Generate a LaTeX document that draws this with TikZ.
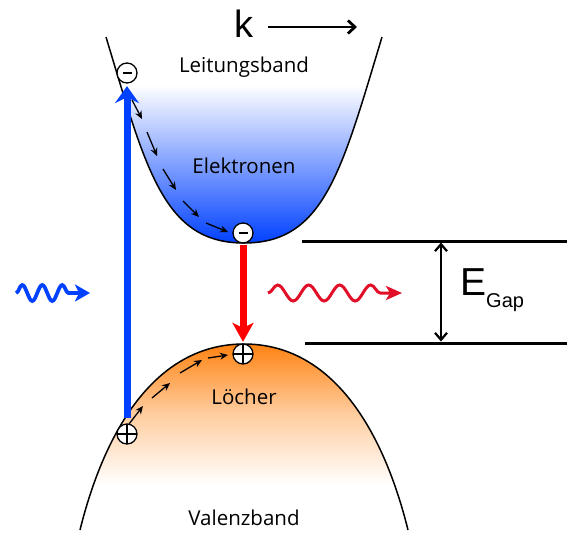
\documentclass[tikz,border=0pt]{standalone}
\usepackage{fontspec}
\setmainfont{Open Sans}
\newfontfamily\arialfont{Liberation Sans}
\usetikzlibrary{arrows.meta}
\usetikzlibrary{decorations.pathmorphing}
\definecolor{bandblue}{RGB}{0, 64, 255}
\definecolor{bandorange}{RGB}{255, 130, 16}
\definecolor{photonred}{RGB}{225, 15, 40}
\definecolor{recomred}{RGB}{255, 0, 0}
\tikzset{band/.style = {line width = 1.5pt}}
\tikzset{bandtext/.style = {font = \fontsize{20.5}{24}\selectfont, anchor = base}}
\tikzset{elec/.style = {circle, draw, fill = white, line width = 1.3pt, inner sep = 0, minimum size = 20pt,
                        path picture = {\draw [line width = 2.6pt] ([xshift = -4.5pt]path picture bounding box.center)
                                                                   -- ([xshift = 4.5pt]path picture bounding box.center);}}}
\tikzset{hole/.style = {circle, draw, fill = white, line width = 1.3pt, inner sep = 0, minimum size = 20pt,
                        path picture = {\draw [line width = 1.6pt] (path picture bounding box.west) -- (path picture bounding box.east)
                                                                   (path picture bounding box.north) -- (path picture bounding box.south);}}}
\tikzset{hop/.style = {line width = 1.3pt, -{Stealth[length = 8pt, width = 7pt]}}}
\tikzset{pump/.style = {line width = 7pt, bandblue, -{Stealth[length = 17pt, width = 24pt, inset = 6pt]}}}
\tikzset{recom/.style = {line width = 7pt, recomred, -{Stealth[length = 19pt, width = 21pt, inset = 5pt]}}}
\tikzset{wave/.style = {decorate, decoration = {snake, amplitude = 8pt, segment length = #1, post length = 12pt}}}
\tikzset{barb/.style = {line width = 2.8pt, -{Straight Barb[length = 7pt, width = 13pt]}}}
\newcommand{\cbandpath}{(106, 37) .. controls (146.6, 171.4) and (164, 243) .. (244, 243)
                                  .. controls (324, 243) and (341.4, 171.4) .. (382, 37)}
\newcommand{\vbandpath}{(80, 530) .. controls (104, 433) and (154, 344) .. (244, 344)
                                  .. controls (334, 344) and (384, 433) .. (408, 530)}

\begin{document}
\begin{tikzpicture}[x = 1pt, y = -1pt]
    \useasboundingbox (0, 0) rectangle (567, 555);

    \begin{scope}
        \clip \cbandpath -- cycle;
        \shade [top color = white, bottom color = bandblue] (100, 85) rectangle (390, 244);
    \end{scope}
    \begin{scope}
        \clip \vbandpath -- cycle;
        \shade [top color = bandorange, bottom color = white, middle color = bandorange!40!white] (75, 343) rectangle (415, 485);
    \end{scope}

    \draw [band] \cbandpath;
    \draw [band] \vbandpath;

    \foreach \xa/\ya/\xb/\yb in {132/100/142/119, 147/132/157/156, 163/169/176/190, 183/201/199/217, 206/223/228/232}
        \draw [hop] (\xa, \ya) -- (\xb, \yb);
    \foreach \xa/\ya/\xb/\yb in {129/424/143/406, 152/398/170/383, 180/373/202/360, 208/358/228/355}
        \draw [hop] (\xa, \ya) -- (\xb, \yb);

    \node [elec] (e1) at (127, 73) {};
    \node [elec] (e2) at (243, 233) {};
    \node [hole] (h1) at (127, 434) {};
    \node [hole] (h2) at (243, 354) {};

    \draw [pump, shorten <= 5pt, shorten >= 2.5pt] (h1) -- (e1);
    \draw [recom, shorten <= 1pt, shorten >= 1.5pt] (e2) -- (h2);

    \node [bandtext] (lb) at (244, 72) {Leitungsband};
    \node [bandtext] (el) at (244, 173) {Elektronen};
    \node [bandtext] (lo) at (244, 404) {Löcher};
    \node [bandtext] (vb) at (244, 525) {Valenzband};

    \node [font = \arialfont\fontsize{38}{40}\selectfont, anchor = base, inner sep = 0] (k) at (244, 37) {k};
    \coordinate (k0) at (268, 27);
    \coordinate (k1) at (357, 27);
    \draw [barb] (k0) -- (k1);

    \coordinate (cb0) at (302, 241);
    \coordinate (cb1) at (567, 241);
    \coordinate (vb0) at (305, 343);
    \coordinate (vb1) at (567, 343);
    \draw [line width = 3pt] (cb0) -- (cb1);
    \draw [line width = 3pt] (vb0) -- (vb1);
    \coordinate (gt) at (441, 242.5);
    \coordinate (gb) at (441, 341.5);
    \draw [line width = 2.2pt, {Straight Barb[length = 7pt, width = 12pt]}-{Straight Barb[length = 7pt, width = 12pt]}] (gt) -- (gb);
    \node [font = \arialfont\fontsize{39}{40}\selectfont, anchor = base west, inner sep = 0] (eg) at (460, 295)
        {E\raisebox{-12pt}{\fontsize{20}{22}\selectfont Gap}};

    \coordinate (in0) at (16, 293);
    \coordinate (in1) at (90, 293);
    \draw [wave = 20pt, bandblue, line width = 3.7pt, -{Stealth[length = 15pt, width = 17pt, inset = 4pt]}] (in0) -- (in1);
    \coordinate (out0) at (268, 293);
    \coordinate (out1) at (402, 293);
    \draw [wave = 31pt, photonred, line width = 3pt, -{Stealth[length = 16pt, width = 14pt, inset = 4pt]}] (out0) -- (out1);
\end{tikzpicture}
\end{document}
